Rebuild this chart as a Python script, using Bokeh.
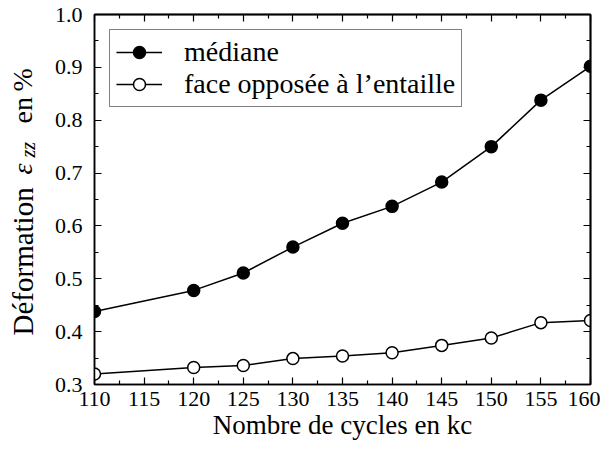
from bokeh.plotting import figure
from bokeh.models import (ColumnDataSource, LinearAxis, FixedTicker, NumeralTickFormatter,
                          Range1d, Legend, LegendItem, Label)
from bokeh.layouts import row
from bokeh.embed import file_html
from bokeh.resources import INLINE
import math

# ---- data ----
cycles = [110, 120, 125, 130, 135, 140, 145, 150, 155, 160]
mediane = [0.438, 0.478, 0.511, 0.560, 0.605, 0.637, 0.683, 0.750, 0.838, 0.902]
face_opposee = [0.320, 0.332, 0.336, 0.349, 0.354, 0.360, 0.374, 0.388, 0.417, 0.421]
x_ticks = [110, 115, 120, 125, 130, 135, 140, 145, 150, 155, 160]
x_minor = [112.5, 117.5, 122.5, 127.5, 132.5, 137.5, 142.5, 147.5, 152.5, 157.5]
y_ticks = [0.3, 0.4, 0.5, 0.6, 0.7, 0.8, 0.9, 1.0]
y_minor = [0.35, 0.45, 0.55, 0.65, 0.75, 0.85, 0.95]
x_label = "Nombre de cycles en kc"
legend_labels = ["médiane", "face opposée à l\u2019entaille"]

FONT = "Liberation Serif"
LW = 46   # width of the y-label strip
H = 442

src = ColumnDataSource(dict(x=cycles, m=mediane, f=face_opposee))

p = figure(width=600 - LW, height=H, output_backend="svg", toolbar_location=None,
           x_range=Range1d(110, 160), y_range=Range1d(0.3, 1.0),
           min_border_left=94 - LW, min_border_right=10, min_border_top=14, min_border_bottom=58,
           x_axis_type=None, y_axis_type=None)
p.grid.visible = False
p.outline_line_color = "black"
p.outline_line_width = 1.5
p.background_fill_color = "white"
p.border_fill_color = "white"


def style(ax):
    ax.axis_line_color = "black"
    ax.axis_line_width = 1.5
    ax.major_tick_in = 7
    ax.major_tick_out = 0
    ax.minor_tick_in = 4
    ax.minor_tick_out = 0
    ax.major_tick_line_width = 1.2
    ax.minor_tick_line_width = 1.2
    ax.major_label_text_font = FONT
    ax.major_label_text_font_size = "22px"
    ax.major_label_text_color = "black"


bx = LinearAxis(ticker=FixedTicker(ticks=x_ticks, minor_ticks=x_minor), axis_label=x_label)
style(bx)
bx.major_label_standoff = 7
bx.major_label_text_line_height = 1.0
bx.axis_label_text_font = FONT
bx.axis_label_text_font_size = "27px"
bx.axis_label_text_font_style = "normal"
bx.axis_label_text_color = "black"
bx.axis_label_text_line_height = 1.0
bx.axis_label_standoff = 1
p.add_layout(bx, "below")

ly = LinearAxis(ticker=FixedTicker(ticks=y_ticks, minor_ticks=y_minor),
                formatter=NumeralTickFormatter(format="0.0"))
style(ly)
ly.major_label_standoff = 12
p.add_layout(ly, "left")

# top / right axes: ticks only, no labels
for loc, maj, mnr in (("above", x_ticks, x_minor), ("right", y_ticks, y_minor)):
    for pos, ln in ((maj, 7), (mnr, 4)):
        ax = LinearAxis(ticker=FixedTicker(ticks=[], minor_ticks=pos))
        ax.axis_line_color = "black"
        ax.axis_line_width = 1.5
        ax.major_tick_in = 0
        ax.major_tick_out = 0
        ax.minor_tick_in = ln
        ax.minor_tick_out = 0
        ax.minor_tick_line_width = 1.2
        ax.major_label_standoff = 0
        p.add_layout(ax, loc)

r1 = p.line("x", "m", source=src, line_color="black", line_width=1.5)
s1 = p.scatter("x", "m", source=src, size=12, fill_color="black", line_color="black", line_width=1.5)
r2 = p.line("x", "f", source=src, line_color="black", line_width=1.5)
s2 = p.scatter("x", "f", source=src, size=12, fill_color="white", line_color="black", line_width=1.5)

legend = Legend(items=[LegendItem(label=legend_labels[0], renderers=[r1, s1]),
                       LegendItem(label=legend_labels[1], renderers=[r2, s2])],
                location="top_left", margin=15, padding=6, spacing=-2,
                glyph_width=46, glyph_height=30, label_height=30, label_standoff=22,
                label_text_font=FONT, label_text_font_size="28px", label_text_color="black",
                border_line_color="black", border_line_width=1.5,
                background_fill_alpha=1.0)
p.add_layout(legend, "center")

# ---- y-axis label strip (text with subscript built from pieces) ----
yl = figure(width=LW, height=H, output_backend="svg", toolbar_location=None,
            x_range=Range1d(0, LW), y_range=Range1d(0, H),
            min_border=0, x_axis_type=None, y_axis_type=None)
yl.grid.visible = False
yl.outline_line_color = None
yl.background_fill_color = "white"
yl.border_fill_color = "white"

# (text, start position from top, anchor position from left, size, style) -- canvas pixels
ypieces = [
    ("Déformation", 335, 22, "29px", "normal"),
    ("ε", 174, 22, "28px", "italic"),
    ("zz", 157, 27, "20px", "italic"),
    ("en", 123, 22, "28px", "normal"),
    ("%", 91, 22, "28px", "normal"),
]
for txt, ypos, xpos, fs, st in ypieces:
    yl.add_layout(Label(x=xpos, y=ypos, x_units="canvas", y_units="canvas",
                        text=txt, angle=math.pi / 2,
                        text_align="left", text_baseline="alphabetic",
                        text_font=FONT, text_font_size=fs, text_font_style=st,
                        text_color="black"))

layout = row(yl, p, spacing=0)
open("out.html", "w").write(file_html(layout, INLINE))
